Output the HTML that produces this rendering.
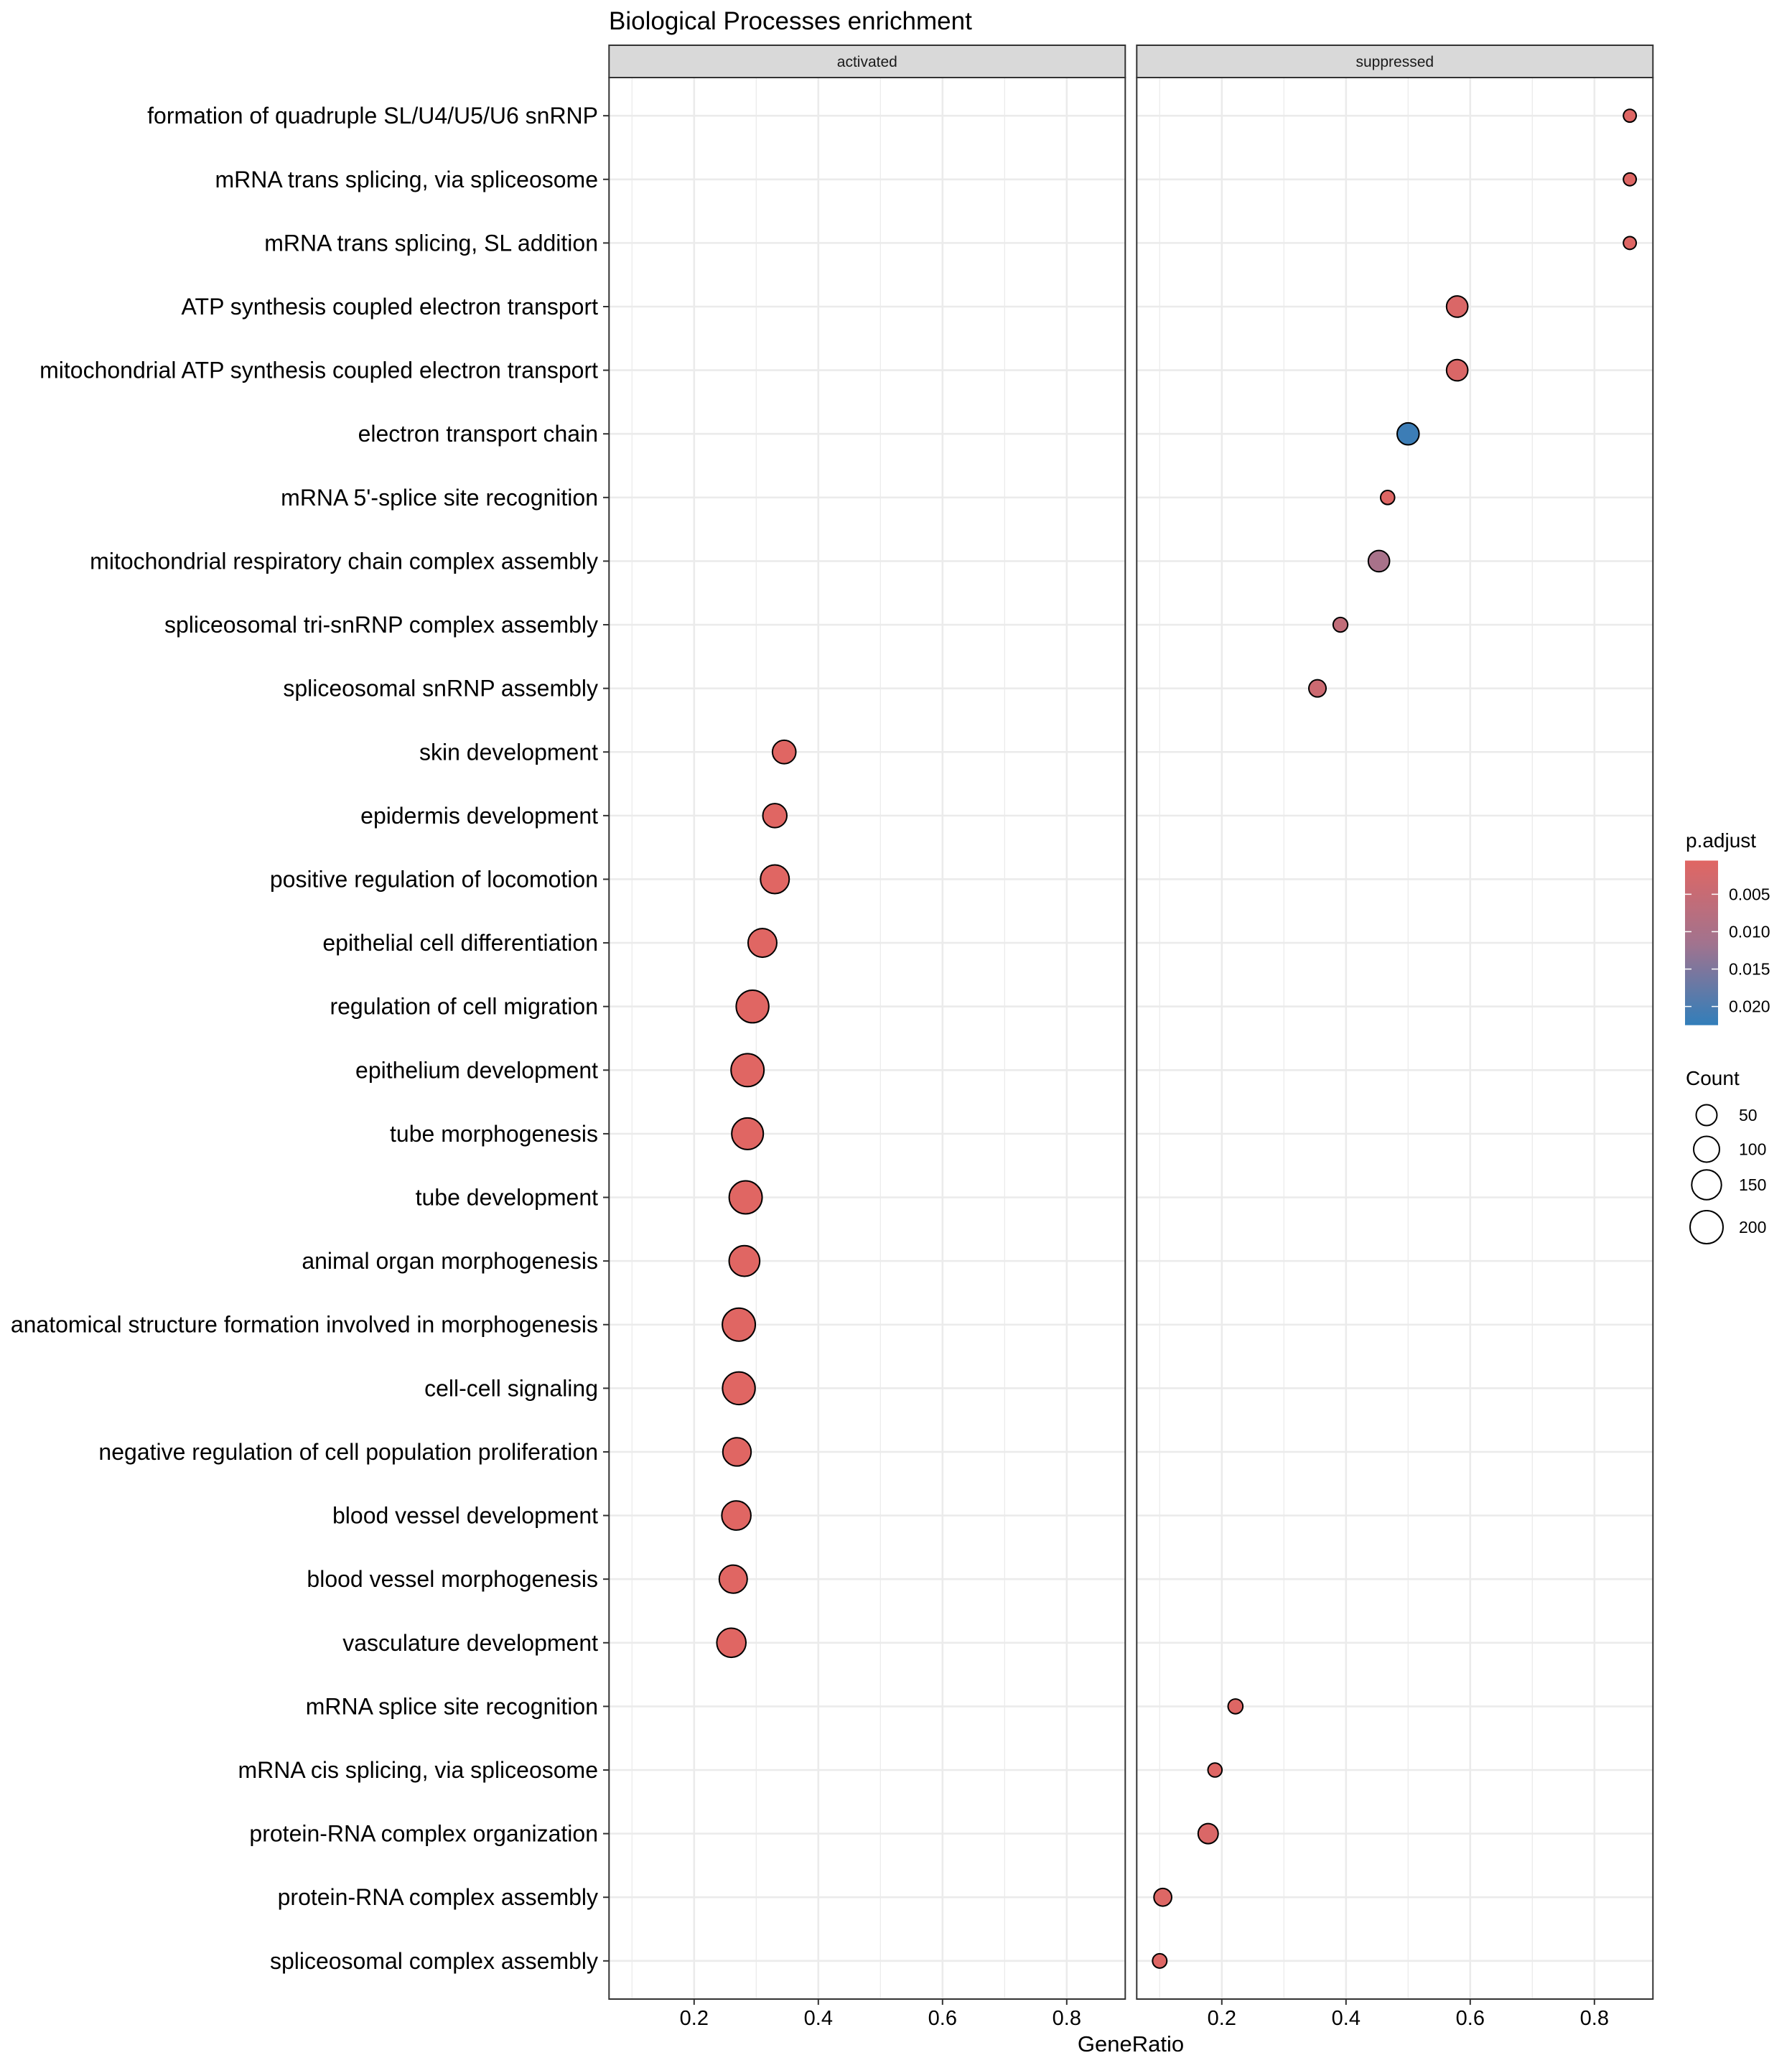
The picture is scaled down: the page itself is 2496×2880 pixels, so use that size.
<!DOCTYPE html>
<html><head><meta charset="utf-8"><style>
html,body{margin:0;padding:0;background:#fff;}
svg{display:block;font-family:"Liberation Sans",Arial,sans-serif;}
</style></head><body>
<svg id="chart" width="2496" height="2880" viewBox="0 0 2496 2880" xmlns="http://www.w3.org/2000/svg">
<rect width="2496" height="2880" fill="#fff"/>
<text x="848" y="41" font-size="35" fill="#000">Biological Processes enrichment</text>
<g id="grid"></g>
<g id="marks"></g>
<g id="axes"></g>
<g id="legend"></g>
</svg>
<script>
const terms = ["formation of quadruple SL/U4/U5/U6 snRNP","mRNA trans splicing, via spliceosome","mRNA trans splicing, SL addition","ATP synthesis coupled electron transport","mitochondrial ATP synthesis coupled electron transport","electron transport chain","mRNA 5'-splice site recognition","mitochondrial respiratory chain complex assembly","spliceosomal tri-snRNP complex assembly","spliceosomal snRNP assembly","skin development","epidermis development","positive regulation of locomotion","epithelial cell differentiation","regulation of cell migration","epithelium development","tube morphogenesis","tube development","animal organ morphogenesis","anatomical structure formation involved in morphogenesis","cell-cell signaling","negative regulation of cell population proliferation","blood vessel development","blood vessel morphogenesis","vasculature development","mRNA splice site recognition","mRNA cis splicing, via spliceosome","protein-RNA complex organization","protein-RNA complex assembly","spliceosomal complex assembly"];
const panels = ["activated","suppressed"];
const termPanel = [1,1,1,1,1,1,1,1,1,1,0,0,0,0,0,0,0,0,0,0,0,0,0,0,0,1,1,1,1,1];
const geneRatio = [0.857,0.857,0.857,0.579,0.579,0.500,0.467,0.453,0.391,0.354,0.345,0.330,0.330,0.310,0.294,0.286,0.286,0.283,0.281,0.272,0.272,0.269,0.268,0.263,0.260,0.222,0.189,0.178,0.105,0.100];
const counts = [6,6,6,54,54,60,10,54,12,25,74,80,136,136,194,200,178,200,163,200,194,130,142,127,142,13,10,44,28,11];
const pAdjust = [0.0008,0.0008,0.0008,0.0015,0.0015,0.0215,0.0008,0.0105,0.0060,0.0040,0.0005,0.0005,0.0005,0.0005,0.0005,0.0005,0.0005,0.0005,0.0005,0.0005,0.0005,0.0005,0.0005,0.0005,0.0005,0.0008,0.0008,0.0015,0.0010,0.0008];
const xTicks = [0.2,0.4,0.6,0.8];
const xMinor = [0.1,0.3,0.5,0.7];
const colorTicks = [0.005,0.010,0.015,0.020];
const sizeBreaks = [50,100,150,200];

const NS="http://www.w3.org/2000/svg";
function mk(tag,attrs,parent){const e=document.createElementNS(NS,tag);for(const k in attrs)e.setAttribute(k,attrs[k]);parent.appendChild(e);return e;}
const panelLeft=[848.3,1583.3], panelW=719, plotTop=108, plotBot=2784, stripTop=63;
const unit=865, dMin=0.063;
function xScale(v,p){return panelLeft[p]+(v-dMin)*unit;}
const rowStep=(plotBot-plotTop)/(terms.length-1+1.2);
function yScale(i){return plotTop+(0.6+i)*rowStep;}
function rScale(c){return 7+1.2*Math.sqrt(c);}
const pMin=0.0005,pMax=0.0225;
const cLo=[224,102,99], cMid=[162,115,142], cHi=[50,126,186];
function colorScale(p){let t=(p-pMin)/(pMax-pMin);t=Math.max(0,Math.min(1,t));
  let a,b,u; if(t<0.5){a=cLo;b=cMid;u=t*2;}else{a=cMid;b=cHi;u=(t-0.5)*2;}
  const c=a.map((v,i)=>Math.round(v+(b[i]-v)*u));return `rgb(${c[0]},${c[1]},${c[2]})`;}

const grid=document.getElementById('grid'), marks=document.getElementById('marks'), axes=document.getElementById('axes'), legend=document.getElementById('legend');
panels.forEach((name,p)=>{
  const L=panelLeft[p];
  const bg=mk('rect',{x:L,y:plotTop,width:panelW,height:plotBot-plotTop,fill:'#fff'},grid);
  
  
  xMinor.forEach(v=>{const l=mk('line',{x1:xScale(v,p),x2:xScale(v,p),y1:plotTop,y2:plotBot,stroke:'#EBEBEB','stroke-width':1.3},grid);
    
    });
  xTicks.forEach(v=>{const l=mk('line',{x1:xScale(v,p),x2:xScale(v,p),y1:plotTop,y2:plotBot,stroke:'#EBEBEB','stroke-width':2.6},grid);
    
    });
  terms.forEach((t,i)=>{const l=mk('line',{x1:L,x2:L+panelW,y1:yScale(i),y2:yScale(i),stroke:'#EBEBEB','stroke-width':2.6},grid);
    
    });
  const border=mk('rect',{x:L,y:plotTop,width:panelW,height:plotBot-plotTop,fill:'none',stroke:'#333','stroke-width':2},axes);
  
  
  const strip=mk('rect',{x:L,y:stripTop,width:panelW,height:plotTop-stripTop,fill:'#D9D9D9',stroke:'#333','stroke-width':2},axes);
  
  
  const st=mk('text',{x:L+panelW/2,y:93,'font-size':21,'text-anchor':'middle',fill:'#1A1A1A'},axes);
  st.textContent=name;
  
  
  xTicks.forEach(v=>{const x=xScale(v,p);
    const tk=mk('line',{x1:x,x2:x,y1:plotBot,y2:plotBot+8,stroke:'#333','stroke-width':2},axes);
    
    
    const tl=mk('text',{x:x,y:2820,'font-size':29,'text-anchor':'middle',fill:'#000'},axes);
    tl.textContent=v.toFixed(1);
    
    });
});
terms.forEach((t,i)=>{const y=yScale(i);
  const tk=mk('line',{x1:840,x2:848.3,y1:y,y2:y,stroke:'#333','stroke-width':2},axes);
  
  
  const tl=mk('text',{x:833,y:y+11,'font-size':32,'text-anchor':'end',fill:'#000'},axes);
  tl.textContent=t;
  
  
  const c=mk('circle',{cx:xScale(geneRatio[i],termPanel[i]),cy:y,r:rScale(counts[i])-1,fill:colorScale(pAdjust[i]),stroke:'#000','stroke-width':2},marks);
  
  
});
const xt=mk('text',{x:1575,y:2857,'font-size':31,'text-anchor':'middle',fill:'#000'},axes);
xt.textContent='GeneRatio';



// legend
const lt=mk('text',{x:2348,y:1180,'font-size':28,fill:'#000'},legend);
lt.textContent='p.adjust';


const barTop=1198.5, barBot=1427.7;
const defs=mk('defs',{},legend);
const grad=mk('linearGradient',{id:'pg',x1:0,y1:0,x2:0,y2:1},defs);
for(let k=0;k<=10;k++){const p=pMin+(pMax-pMin)*k/10;mk('stop',{offset:k/10,'stop-color':colorScale(p)},grad);}
const bar=mk('rect',{x:2347,y:barTop,width:46,height:barBot-barTop,fill:'url(#pg)'},legend);


function pY(p){return barTop+(p-pMin)/(pMax-pMin)*(barBot-barTop);}
colorTicks.forEach(p=>{const y=pY(p);
  const a=mk('line',{x1:2347,x2:2356,y1:y,y2:y,stroke:'#fff','stroke-width':1.5},legend);
  
  
  const b=mk('line',{x1:2384,x2:2393,y1:y,y2:y,stroke:'#fff','stroke-width':1.5},legend);
  
  
  const t=mk('text',{x:2408,y:y+8,'font-size':23,fill:'#000'},legend);
  t.textContent=p.toFixed(3);
  
  });
const ct=mk('text',{x:2348,y:1511,'font-size':28,fill:'#000'},legend);
ct.textContent='Count';


const keyY=[1553,1600.5,1650,1709];
sizeBreaks.forEach((c,k)=>{
  const ci=mk('circle',{cx:2377,cy:keyY[k],r:rScale(c)-1,fill:'none',stroke:'#000','stroke-width':2},legend);
  
  
  const t=mk('text',{x:2422,y:keyY[k]+8,'font-size':23,fill:'#000'},legend);
  t.textContent=String(c);
  
  });
</script>
</body></html>
